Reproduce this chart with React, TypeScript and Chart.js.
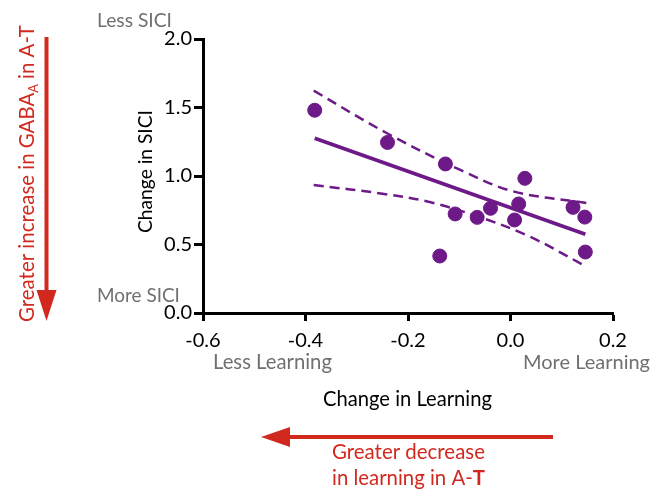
import React, { useEffect, useRef } from "react";
import { Chart, registerables } from "chart.js";
Chart.register(...registerables);

// Data
const learning = [-0.382, -0.24, -0.127, 0.028, 0.016, 0.122, 0.145, -0.039, -0.108, -0.065, 0.008, 0.146, -0.138];
const sici = [1.48, 1.245, 1.088, 0.983, 0.796, 0.771, 0.7, 0.764, 0.723, 0.698, 0.679, 0.445, 0.416];

const fitX = [-0.382, 0.146];
const fitY = [1.275, 0.575];

const upperX = [-0.384, -0.242, -0.099, 0.005, 0.148];
const upperY = [1.623, 1.314, 1.046, 0.888, 0.803];

const lowerX = [-0.384, -0.25, -0.158, -0.06, 0.037, 0.141];
const lowerY = [0.934, 0.871, 0.81, 0.7, 0.559, 0.353];

const xTicks = [-0.6, -0.4, -0.2, 0.0, 0.2];
const yTicks = [0.0, 0.5, 1.0, 1.5, 2.0];

const PURPLE = "#6d1a88";
const RED = "#d2291f";
const GRAY = "#707070";
const FONT = "Lato, 'Open Sans', sans-serif";

const pts = (xs: number[], ys: number[]) => xs.map((x, i) => ({ x, y: ys[i] }));

type Seg = { t: string; bold?: boolean; sub?: boolean };

// draw a run of segments, scaled so the whole run has the given width, centred at (cx, by) baseline
function drawRun(ctx: CanvasRenderingContext2D, segs: Seg[], cx: number, by: number, width: number) {
  const base = 20;
  const font = (s: Seg, size: number) => `${s.bold ? "bold " : ""}${s.sub ? size * 0.62 : size}px ${FONT}`;
  let total = 0;
  for (const s of segs) {
    ctx.font = font(s, base);
    total += ctx.measureText(s.t).width;
  }
  const size = (base * width) / total;
  let x = cx - width / 2;
  ctx.textAlign = "left";
  ctx.textBaseline = "alphabetic";
  for (const s of segs) {
    ctx.font = font(s, size);
    ctx.fillText(s.t, x, by + (s.sub ? size * 0.22 : 0));
    x += ctx.measureText(s.t).width;
  }
}

const annotations = {
  id: "annotations",
  afterDraw(chart: any) {
    const ctx: CanvasRenderingContext2D = chart.ctx;
    ctx.save();
    // gray qualifiers
    ctx.fillStyle = GRAY;
    drawRun(ctx, [{ t: "Less SICI" }], 97 + 75 / 2, 27, 75);
    drawRun(ctx, [{ t: "More SICI" }], 97 + 83 / 2, 302, 83);
    drawRun(ctx, [{ t: "Less Learning" }], 213 + 119 / 2, 369, 119);
    drawRun(ctx, [{ t: "More Learning" }], 523 + 127 / 2, 369, 127);

    // axis titles
    ctx.fillStyle = "#000";
    drawRun(ctx, [{ t: "Change in Learning" }], 407.5, 406, 169);
    ctx.save();
    ctx.translate(152, 171.5);
    ctx.rotate(-Math.PI / 2);
    drawRun(ctx, [{ t: "Change in SICI" }], 0, 0, 123);
    ctx.restore();

    // red arrows
    ctx.strokeStyle = RED;
    ctx.fillStyle = RED;
    ctx.lineWidth = 4;
    ctx.beginPath();
    ctx.moveTo(46.5, 37);
    ctx.lineTo(46.5, 292);
    ctx.stroke();
    ctx.beginPath();
    ctx.moveTo(36.5, 290);
    ctx.lineTo(56.5, 290);
    ctx.lineTo(46.5, 321);
    ctx.closePath();
    ctx.fill();

    ctx.beginPath();
    ctx.moveTo(553, 437);
    ctx.lineTo(288, 437);
    ctx.stroke();
    ctx.beginPath();
    ctx.moveTo(290, 427);
    ctx.lineTo(290, 447);
    ctx.lineTo(261, 437);
    ctx.closePath();
    ctx.fill();

    // red vertical text with subscript
    ctx.save();
    ctx.translate(34, 173.5);
    ctx.rotate(-Math.PI / 2);
    drawRun(ctx, [{ t: "Greater increase in GABA" }, { t: "A", sub: true }, { t: " in A-T" }], 0, 0, 297);
    ctx.restore();

    // red bottom text
    drawRun(ctx, [{ t: "Greater decrease" }], 408.5, 459, 153);
    drawRun(ctx, [{ t: "in learning in A-" }, { t: "T", bold: true }], 408.5, 485, 153);
    ctx.restore();
  },
};

export default function App() {
  const ref = useRef<HTMLCanvasElement>(null);
  useEffect(() => {
    if (!ref.current) return;
    const chart = new Chart(ref.current, {
      type: "scatter",
      data: {
        datasets: [
          {
            label: "upper",
            data: pts(upperX, upperY),
            showLine: true,
            borderColor: PURPLE,
            borderWidth: 2.5,
            borderDash: [10, 6],
            pointRadius: 0,
            tension: 0.35,
          },
          {
            label: "lower",
            data: pts(lowerX, lowerY),
            showLine: true,
            borderColor: PURPLE,
            borderWidth: 2.5,
            borderDash: [10, 6],
            pointRadius: 0,
            tension: 0.35,
          },
          {
            label: "fit",
            data: pts(fitX, fitY),
            showLine: true,
            borderColor: PURPLE,
            borderWidth: 3.8,
            pointRadius: 0,
          },
          {
            label: "data",
            data: pts(learning, sici),
            backgroundColor: PURPLE,
            borderColor: PURPLE,
            pointRadius: 7,
            pointHoverRadius: 7,
          },
        ],
      },
      options: {
        animation: false,
        responsive: true,
        maintainAspectRatio: false,
        layout: { padding: { left: 0, right: 51, top: 39, bottom: 0 } },
        plugins: { legend: { display: false }, tooltip: { enabled: false } },
        scales: {
          x: {
            type: "linear",
            min: -0.6,
            max: 0.2,
            afterFit: (s: any) => {
              s.height = 179;
            },
            afterBuildTicks: (s: any) => {
              s.ticks = xTicks.map((v) => ({ value: v }));
            },
            ticks: {
              color: "#000",
              font: { family: FONT, size: 20 },
              padding: 8,
              callback: (v: any) => (Math.abs(Number(v)) < 1e-9 ? 0 : Number(v)).toFixed(1),
            },
            grid: { drawOnChartArea: false, drawTicks: true, tickLength: 8, tickWidth: 3, color: "#000" },
            border: { display: true, width: 3, color: "#000" },
          },
          y: {
            type: "linear",
            min: 0,
            max: 2,
            afterFit: (s: any) => {
              s.width = 203;
            },
            afterBuildTicks: (s: any) => {
              s.ticks = yTicks.map((v) => ({ value: v }));
            },
            ticks: {
              color: "#000",
              font: { family: FONT, size: 20 },
              padding: 2,
              callback: (v: any) => Number(v).toFixed(1),
            },
            grid: { drawOnChartArea: false, drawTicks: true, tickLength: 9, tickWidth: 3, color: "#000" },
            border: { display: true, width: 3, color: "#000" },
          },
        },
      },
      plugins: [annotations],
    });
    return () => chart.destroy();
  }, []);
  return (
    <div style={{ position: "fixed", left: 0, top: 0, width: 664, height: 492, background: "#fff" }}>
      <canvas ref={ref} />
    </div>
  );
}
